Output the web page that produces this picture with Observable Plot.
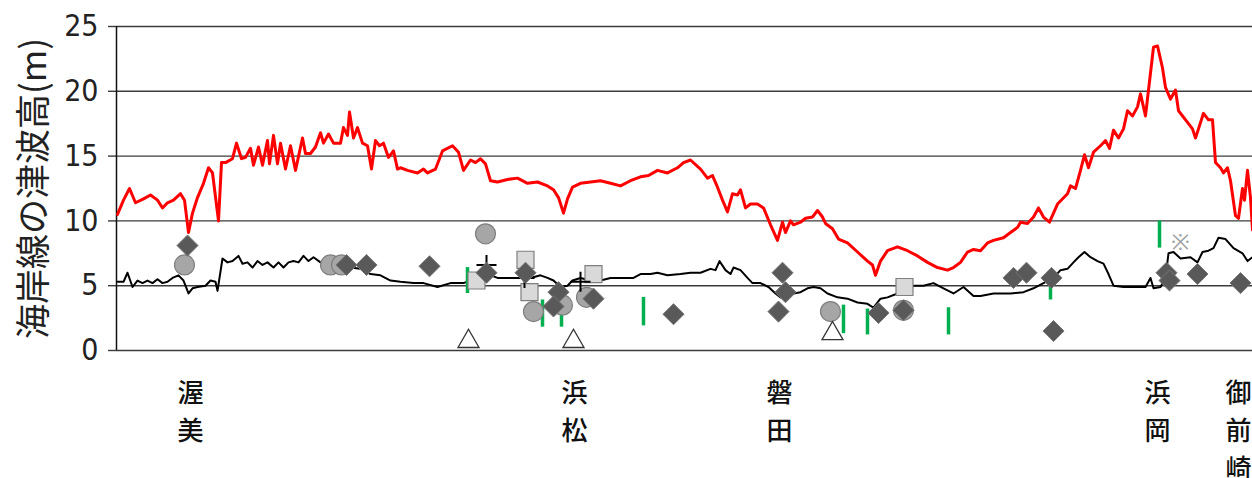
<!DOCTYPE html>
<html><head><meta charset="utf-8">
<script src="https://cdn.jsdelivr.net/npm/d3@7"></script>
<script src="https://cdn.jsdelivr.net/npm/@observablehq/plot@0.6"></script>
<style>body{margin:0;background:#fff}</style>
</head><body><div id="chart"></div>
<script>
// distance along the coast (km from left end), tsunami height (m)
const redLine = [[0.1,10.5],[0.7,11.6],[1.3,12.5],[1.9,11.4],[2.7,11.7],[3.4,12.0],[4.1,11.6],[4.6,11.0],[5.1,11.4],[5.7,11.6],[6.4,12.1],[6.8,11.6],[7.2,9.1],[7.6,10.6],[8.1,11.8],[8.7,12.9],[9.2,14.1],[9.6,13.7],[10.2,10.0],[10.5,14.5],[10.9,14.5],[11.6,14.8],[12.0,16.0],[12.5,14.8],[12.9,14.9],[13.4,15.6],[13.7,14.3],[14.2,15.7],[14.6,14.3],[15.1,16.2],[15.3,14.4],[15.7,16.6],[16.1,14.4],[16.4,16.0],[16.9,14.0],[17.4,15.8],[17.9,13.9],[18.6,16.4],[18.9,15.2],[19.4,15.2],[19.9,15.7],[20.4,16.8],[20.7,16.0],[21.2,16.7],[21.7,16.0],[22.4,16.0],[22.7,17.2],[23.1,16.6],[23.3,18.4],[23.7,16.4],[24.1,17.2],[24.6,16.0],[25.1,15.8],[25.5,14.0],[25.9,16.2],[26.3,15.8],[26.7,16.0],[27.2,14.9],[27.7,15.4],[28.1,14.0],[28.4,14.1],[29.1,13.9],[30.1,13.7],[30.7,14.0],[31.1,13.7],[31.9,14.0],[32.6,15.4],[33.6,15.8],[34.2,15.3],[34.7,13.9],[35.4,14.7],[35.9,14.5],[36.4,14.8],[36.9,14.4],[37.4,13.1],[38.1,13.0],[39.1,13.2],[40.1,13.3],[41.1,12.9],[42.1,13.0],[43.1,12.7],[43.7,12.4],[44.2,11.8],[44.7,10.6],[45.1,11.7],[45.6,12.6],[46.4,12.9],[47.4,13.0],[48.4,13.1],[49.4,12.9],[50.4,12.7],[51.4,13.1],[52.4,13.4],[53.2,13.5],[54.1,13.9],[55.1,13.7],[56.1,14.1],[56.7,14.5],[57.4,14.7],[58.4,14.0],[59.1,13.3],[59.6,13.5],[60.1,12.6],[60.6,11.6],[61.1,10.7],[61.6,12.1],[62.1,12.0],[62.4,12.4],[62.9,11.0],[63.4,11.3],[64.1,11.3],[64.7,11.0],[65.4,9.7],[66.1,8.5],[66.6,9.9],[66.9,9.1],[67.4,10.0],[67.7,9.7],[68.4,9.9],[68.9,10.2],[69.6,10.3],[70.1,10.8],[70.6,10.3],[70.9,9.8],[71.6,9.4],[72.2,8.6],[73.1,8.3],[74.1,7.6],[75.1,6.9],[75.6,6.6],[75.9,5.8],[76.4,6.9],[77.1,7.7],[78.1,8.0],[79.1,7.7],[80.1,7.3],[81.1,6.8],[82.1,6.4],[83.1,6.2],[83.7,6.4],[84.4,6.8],[85.1,7.6],[85.7,7.8],[86.4,7.7],[87.1,8.3],[87.7,8.5],[88.7,8.7],[89.4,9.1],[90.1,9.5],[90.4,9.9],[91.1,9.8],[91.7,10.3],[92.2,11.0],[92.7,10.3],[93.3,9.9],[94.1,11.3],[95.1,12.1],[95.4,12.7],[95.9,12.5],[96.4,13.9],[96.8,15.1],[97.2,14.1],[97.7,15.3],[98.4,15.8],[98.9,16.2],[99.3,15.6],[99.7,17.0],[100.2,16.4],[100.7,17.1],[101.1,18.5],[101.6,18.1],[102.1,18.8],[102.4,19.8],[102.9,18.1],[103.2,20.1],[103.7,23.4],[104.1,23.5],[104.6,21.8],[104.9,20.3],[105.4,19.4],[105.9,20.1],[106.2,18.5],[107.1,17.6],[107.6,17.1],[107.9,16.4],[108.2,17.1],[108.7,18.3],[109.2,17.8],[109.6,17.8],[109.9,14.5],[110.4,14.1],[110.7,13.7],[111.1,14.1],[111.4,13.1],[111.9,10.4],[112.2,10.2],[112.6,12.5],[112.8,11.6],[113.1,13.9],[113.4,11.8],[113.6,9.3]];

const blackLine = [[0.1,5.3],[0.7,5.3],[1.1,6.0],[1.6,4.9],[2.1,5.4],[2.6,5.2],[3.1,5.4],[3.6,5.2],[4.1,5.5],[4.6,5.2],[5.1,5.3],[5.6,5.6],[6.2,5.8],[6.7,5.4],[7.2,4.4],[7.6,4.8],[8.1,4.9],[8.9,5.0],[9.4,5.4],[9.9,5.3],[10.1,4.6],[10.6,7.1],[11.1,6.8],[11.6,6.9],[12.2,7.3],[12.6,6.7],[13.1,6.8],[13.6,6.4],[14.1,6.9],[14.6,6.6],[15.1,6.8],[15.7,6.4],[16.2,6.8],[16.7,6.4],[17.2,6.8],[17.7,6.9],[18.2,6.8],[18.7,7.3],[19.2,6.9],[19.7,7.2],[20.4,6.8],[21.4,6.6],[22.4,6.7],[23.4,6.4],[24.4,6.3],[25.4,5.9],[26.4,5.8],[27.4,5.4],[28.4,5.3],[29.7,5.2],[30.7,5.2],[32.1,4.9],[33.4,5.2],[34.7,5.2],[36.1,5.6],[37.1,5.9],[38.1,5.6],[39.1,5.6],[41.4,5.6],[42.4,5.8],[43.1,5.6],[43.7,5.4],[44.4,4.9],[45.1,5.0],[45.6,5.4],[46.4,5.6],[47.4,5.4],[48.4,5.4],[49.4,5.6],[50.7,5.6],[51.7,5.6],[52.4,5.9],[53.4,5.9],[54.1,6.0],[55.1,5.8],[56.4,5.9],[57.4,6.0],[58.4,6.0],[59.4,6.3],[59.9,6.2],[60.3,6.9],[60.9,6.2],[61.4,5.9],[61.7,6.4],[62.4,6.2],[63.1,5.6],[63.6,5.2],[64.4,5.2],[65.2,4.9],[65.9,4.4],[66.4,4.1],[67.1,4.4],[67.7,4.4],[68.4,4.5],[69.1,4.8],[69.7,4.9],[70.4,4.8],[71.1,4.4],[72.1,4.1],[73.1,4.0],[74.1,3.7],[75.1,3.6],[75.7,3.3],[76.4,4.0],[77.1,4.1],[78.1,4.4],[79.1,4.6],[79.7,5.0],[80.7,5.0],[81.7,5.2],[82.7,4.8],[83.7,4.4],[84.7,4.9],[85.7,4.2],[86.4,4.2],[87.7,4.4],[89.4,4.4],[90.7,4.5],[91.7,4.8],[92.7,5.2],[93.7,5.6],[94.4,6.2],[95.1,6.3],[95.7,6.8],[96.2,7.2],[96.8,7.6],[97.4,7.2],[98.1,6.9],[98.7,6.7],[99.2,5.9],[99.7,5.0],[100.7,4.9],[101.7,4.9],[102.9,4.9],[103.4,5.6],[103.7,4.8],[104.4,4.9],[104.9,5.6],[105.2,7.5],[105.7,7.6],[106.4,7.1],[107.4,7.2],[108.1,6.8],[108.6,7.6],[109.2,7.7],[109.7,7.9],[110.2,8.7],[110.9,8.6],[111.7,7.9],[112.6,7.5],[113.1,6.9],[113.6,7.2]];

const diamonds = [[7.1,8.1],[23.0,6.6],[25.0,6.6],[31.3,6.5],[37.0,6.0],[40.9,6.0],[44.2,4.5],[43.7,3.4],[47.7,4.0],[55.7,2.8],[66.6,6.0],[66.9,4.5],[66.2,3.0],[76.2,2.9],[78.7,3.1],[89.7,5.6],[91.0,6.0],[93.5,5.6],[93.7,1.5],[105.0,6.0],[105.3,5.4],[108.1,5.9],[112.4,5.2]];
const circles = [[6.8,6.6],[21.4,6.6],[22.5,6.6],[36.9,9.0],[41.7,3.0],[44.6,3.5],[47.0,4.1],[71.4,3.0],[78.7,3.1]];
const squares = [[36.0,5.4],[40.9,7.0],[41.3,4.5],[47.7,5.9],[78.8,4.9]];
const pluses = [[37.0,6.6],[40.8,5.6],[46.4,5.3]];
const triangles = [[35.2,0.7],[45.7,0.7],[71.6,1.3]];
const greenBars = [[35.1,4.4,6.4],[42.6,1.8,3.9],[44.5,1.8,2.9],[52.7,1.9,4.1],[72.7,1.3,3.5],[75.1,1.2,3.2],[83.2,1.2,3.3],[93.4,3.9,4.9],[104.3,7.9,10.0]];
const komeMarks = [[106.4,8.3]];

const placeNames = ["渥美","浜松","磐田","浜岡","御前崎"];
const placeX = [7.4,45.8,66.3,104.1,112.2];
const yTicks = [0,5,10,15,20,25];
const yTitle = "海岸線の津波高(m)";

const places = placeNames.map((n,i) => ({name: n, x: placeX[i]}));
const X = d => d[0], Y = d => d[1];

const chart = Plot.plot({
  width: 1252, height: 478,
  marginLeft: 116, marginRight: 0, marginTop: 26, marginBottom: 128,
  x: {domain: [0, 113.6], axis: null},
  y: {domain: [0, 25], axis: null},
  style: {background: "#fff", color: "#222"},
  marks: [
    Plot.ruleY(yTicks, {stroke: "#3c3c3c", strokeWidth: 1.4}),
    Plot.axisY({ticks: yTicks, tickSize: 8, tickPadding: 10, label: null, fontSize: 30,
      fontFamily: "'Liberation Sans Narrow', 'DejaVu Sans Condensed', sans-serif", stroke: "#3c3c3c", strokeWidth: 1.4}),
    Plot.ruleX([0], {stroke: "#111", strokeWidth: 1.5}),
    Plot.line(redLine, {x: X, y: Y, stroke: "#ff0000", strokeWidth: 3}),
    Plot.line(blackLine, {x: X, y: Y, stroke: "#000", strokeWidth: 2}),
    Plot.ruleX(greenBars, {x: X, y1: d => d[1], y2: d => d[2], stroke: "#00b050", strokeWidth: 3.5}),
    Plot.dot(circles, {x: X, y: Y, r: 10, fill: "#a6a6a6", stroke: "#7f7f7f", strokeWidth: 1.2}),
    Plot.dot(squares, {x: X, y: Y, symbol: "square", r: 9.6, fill: "#d9d9d9", stroke: "#7f7f7f", strokeWidth: 1.2}),
    Plot.dot(pluses, {x: X, y: Y, symbol: "plus", r: 6.5, stroke: "#000", strokeWidth: 2}),
    Plot.dot(diamonds, {x: X, y: Y, symbol: "diamond2", r: 9.5, fill: "#595959", stroke: "#767676", strokeWidth: 1}),
    Plot.dot(triangles, {x: X, y: Y, symbol: "triangle", r: 7.8, fill: "#fff", stroke: "#333", strokeWidth: 1.3}),
    Plot.text(komeMarks, {x: X, y: Y, text: () => "※", fontSize: 22, fill: "#a0a0a0"}),
    Plot.text(places, {x: "x", text: d => d.name.split("").join("\n"), frameAnchor: "bottom", lineAnchor: "top",
      dy: 25, fontSize: 26, lineHeight: 1.45, fill: "#111", fontWeight: 500, fontFamily: "'Noto Sans CJK JP', sans-serif"}),
    Plot.text([yTitle], {frameAnchor: "left", textAnchor: "middle", rotate: -90, dx: -82, fontSize: 35,
      fill: "#222", fontFamily: "'Noto Sans CJK JP', sans-serif"})
  ]
});
document.getElementById("chart").appendChild(chart);
</script>
</body></html>
